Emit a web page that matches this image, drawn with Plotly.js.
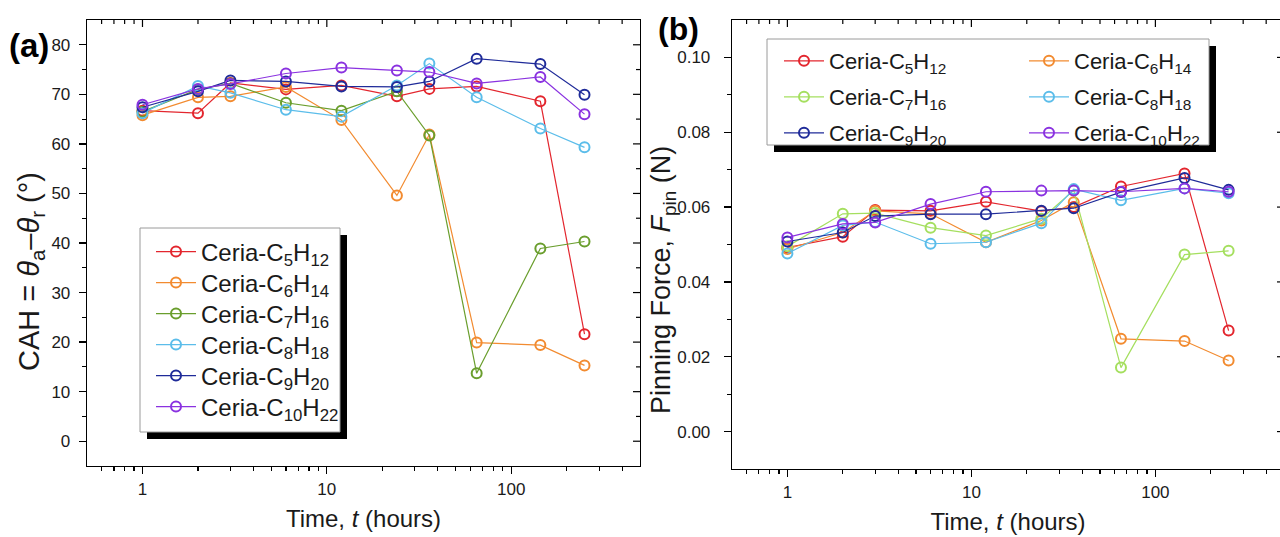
<!DOCTYPE html>
<html><head><meta charset="utf-8">
<script src="https://cdn.plot.ly/plotly-3.0.1.min.js"></script>
<style>html,body{margin:0;padding:0;overflow:hidden;background:#fff}#chart{width:1290px;height:537px}</style>
</head><body><div id="chart"></div>
<script>
// ---------- data ----------
const times = [1, 2, 3, 6, 12, 24, 36, 65, 144, 250];
const seriesNames = ['Ceria-C<sub>5</sub>H<sub>12</sub>', 'Ceria-C<sub>6</sub>H<sub>14</sub>', 'Ceria-C<sub>7</sub>H<sub>16</sub>',
  'Ceria-C<sub>8</sub>H<sub>18</sub>', 'Ceria-C<sub>9</sub>H<sub>20</sub>', 'Ceria-C<sub>10</sub>H<sub>22</sub>'];
const cahC5  = [66.7, 66.2, 72.3, 71.0, 71.8, 69.6, 71.1, 71.6, 68.6, 21.6];
const cahC6  = [65.8, 69.4, 69.6, 71.5, 64.8, 49.6, 61.9, 19.9, 19.4, 15.3];
const cahC7  = [66.5, 71.0, 72.2, 68.3, 66.7, 70.6, 61.7, 13.7, 38.9, 40.3];
const cahC8  = [66.2, 71.7, 70.3, 66.9, 65.5, 71.8, 76.2, 69.4, 63.1, 59.3];
const cahC9  = [67.4, 70.6, 72.8, 72.6, 71.6, 71.5, 72.6, 77.2, 76.1, 69.9];
const cahC10 = [67.9, 71.1, 72.1, 74.2, 75.4, 74.8, 74.5, 72.2, 73.5, 66.0];
const fpinC5  = [0.0492, 0.0521, 0.0592, 0.0590, 0.0614, 0.0589, 0.0600, 0.0655, 0.0690, 0.0270];
const fpinC6  = [0.0488, 0.0532, 0.0590, 0.0582, 0.0506, 0.0564, 0.0613, 0.0248, 0.0242, 0.0190];
const fpinC7  = [0.0495, 0.0582, 0.0584, 0.0545, 0.0524, 0.0569, 0.0645, 0.0171, 0.0473, 0.0483];
const fpinC8  = [0.0476, 0.0551, 0.0560, 0.0502, 0.0506, 0.0557, 0.0648, 0.0618, 0.0650, 0.0637];
const fpinC9  = [0.0508, 0.0532, 0.0576, 0.0581, 0.0581, 0.0590, 0.0597, 0.0640, 0.0678, 0.0646];
const fpinC10 = [0.0519, 0.0555, 0.0559, 0.0608, 0.0641, 0.0644, 0.0644, 0.0641, 0.0650, 0.0641];
const xMajorTicks = [1, 10, 100];
const xMinorTicks = [0.6, 0.7, 0.8, 0.9, 2, 3, 4, 5, 6, 7, 8, 9, 20, 30, 40, 50, 60, 70, 80, 90, 200, 300, 400];
const yMajorA = [0, 10, 20, 30, 40, 50, 60, 70, 80];
const yMinorA = [5, 15, 25, 35, 45, 55, 65, 75];
const yMajorB = [0, 0.02, 0.04, 0.06, 0.08, 0.10];
const yMinorB = [0.01, 0.03, 0.05, 0.07, 0.09];

const cahSeries = [cahC5, cahC6, cahC7, cahC8, cahC9, cahC10];
const fpinSeries = [fpinC5, fpinC6, fpinC7, fpinC8, fpinC9, fpinC10];
const colorsA = ['#e3262e', '#f28b30', '#6a9e2d', '#5bbdea', '#1f2b99', '#8a32e0'];
const colorsB = ['#e3262e', '#f28b30', '#a5df5f', '#5bbdea', '#1f2b99', '#8a32e0'];

// ---------- geometry ----------
const W = 1290, H = 537, ML = 87, MR = 6, MT = 20, MB = 68;
const PW = W - ML - MR, PH = H - MT - MB;
const fx = px => (px - ML) / PW;
const fy = py => (H - MB - py) / PH;
const FONT = 'Liberation Sans, Arial, sans-serif';
const INK = '#1a1a1a';

// legend placement (px): panel a one column, panel b two columns
const legRowsA = [252, 283, 314, 345, 376, 407];
const legXA = 151;
const legRowsB = [61, 61, 97, 97, 133, 133];
const legXB = [779, 1024, 779, 1024, 779, 1024];

const traces = [];
const layout = {
  width: W, height: H, margin: {l: ML, r: MR, t: MT, b: MB}, paper_bgcolor: '#fff', plot_bgcolor: '#fff',
  font: {family: FONT, color: INK}, showlegend: true, annotations: [], shapes: []
};
const legBase = {bgcolor: 'rgba(0,0,0,0)', borderwidth: 0, itemwidth: 40, xanchor: 'left', yanchor: 'middle',
  itemclick: false, itemdoubleclick: false};
function legId(k) { return k === 1 ? 'legend' : 'legend' + k; }

cahSeries.forEach((ys, i) => {
  const id = legId(i + 1);
  layout[id] = Object.assign({}, legBase, {x: fx(legXA), y: fy(legRowsA[i]), font: {family: FONT, size: 24, color: INK}});
  traces.push({
    x: times, y: ys, xaxis: 'x', yaxis: 'y', type: 'scatter', mode: 'lines+markers',
    name: seriesNames[i], legend: id,
    line: {color: colorsA[i], width: 1.2},
    marker: {symbol: 'circle-open', size: 10, color: colorsA[i], line: {width: 2, color: colorsA[i]}}
  });
});
fpinSeries.forEach((ys, i) => {
  const id = legId(i + 7);
  layout[id] = Object.assign({}, legBase, {x: fx(legXB[i]), y: fy(legRowsB[i]), font: {family: FONT, size: 22, color: INK}});
  traces.push({
    x: times, y: ys, xaxis: 'x2', yaxis: 'y2', type: 'scatter', mode: 'lines+markers',
    name: seriesNames[i], legend: id,
    line: {color: colorsB[i], width: 1.2},
    marker: {symbol: 'circle-open', size: 10, color: colorsB[i], line: {width: 2, color: colorsB[i]}}
  });
});

const xr = [Math.log10(0.5), Math.log10(500)];
const base = {showgrid: false, zeroline: false, tickcolor: '#000', tickwidth: 1.3, linecolor: '#000', linewidth: 1.3,
  showline: true, mirror: true, ticks: 'outside', ticklen: 7, tickfont: {family: FONT, size: 17, color: INK}};
const minorBase = {ticks: 'outside', ticklen: 4, tickcolor: '#000', tickwidth: 1.2, showgrid: false, tickmode: 'array'};

function tickShapesTop(xId, topPx, vals, len) {
  vals.forEach(v => layout.shapes.push({type: 'line', xref: xId, x0: v, x1: v, yref: 'paper', ysizemode: 'pixel',
    yanchor: fy(topPx), y0: 0, y1: -len, line: {color: '#000', width: 1.2}, layer: 'above'}));
}
function tickShapesRight(yId, rightPx, vals, len) {
  vals.forEach(v => layout.shapes.push({type: 'line', yref: yId, y0: v, y1: v, xref: 'paper', xsizemode: 'pixel',
    xanchor: fx(rightPx), x0: 0, x1: -len, line: {color: '#000', width: 1.2}, layer: 'above'}));
}

function buildPanel(n, xDomPx, yDomPx, yRange, yMaj, yMin, yFmt, standoff) {
  const xa = n === 1 ? 'xaxis' : 'xaxis' + n, ya = n === 1 ? 'yaxis' : 'yaxis' + n;
  const xId = n === 1 ? 'x' : 'x' + n, yId = n === 1 ? 'y' : 'y' + n;
  layout[xa] = Object.assign({}, base, {type: 'log', range: xr, domain: [fx(xDomPx[0]), Math.min(1, fx(xDomPx[1]))], anchor: yId,
    tickmode: 'array', tickvals: xMajorTicks, ticktext: xMajorTicks.map(String),
    minor: Object.assign({}, minorBase, {tickvals: xMinorTicks}),
    title: {text: 'Time, <i>t</i> (hours)', font: {family: FONT, size: 24, color: INK}, standoff: 12}});
  layout[ya] = Object.assign({}, base, {range: yRange, domain: [fy(yDomPx[1]), fy(yDomPx[0])], anchor: xId,
    tickmode: 'array', tickvals: yMaj, ticktext: yMaj.map(yFmt), ticklabelstandoff: standoff,
    minor: Object.assign({}, minorBase, {tickvals: yMin})});
  tickShapesTop(xId, yDomPx[0], xMajorTicks, 7);
  tickShapesTop(xId, yDomPx[0], xMinorTicks, 4);
  tickShapesRight(yId, xDomPx[1], yMaj, 7);
  tickShapesRight(yId, xDomPx[1], yMin, 4);
}
buildPanel(1, [87, 640], [20, 466], [-5, 85], yMajorA, yMinorA, v => String(v), 5);
buildPanel(2, [732, 1284], [20, 469], [-0.01, 0.11], yMajorB, yMinorB, v => v.toFixed(2), 10);

function box(x0, y0, x1, y1, fill, lc, lw) {
  return {type: 'rect', xref: 'paper', yref: 'paper', x0: fx(x0), x1: fx(x1), y0: fy(y0), y1: fy(y1),
    fillcolor: fill, line: {color: lc, width: lw}, layer: 'above'};
}
layout.shapes.push(box(147, 235, 347, 439, '#000', '#000', 0));
layout.shapes.push(box(140, 228, 340, 432, '#fff', '#9a9a9a', 1));
layout.shapes.push(box(774, 46, 1216, 152, '#000', '#000', 0));
layout.shapes.push(box(767, 39, 1209, 145, '#fff', '#9a9a9a', 1));

function ann(text, x, y, size, opts) {
  return Object.assign({text: text, xref: 'paper', yref: 'paper', x: fx(x), y: fy(y), showarrow: false,
    xanchor: 'center', yanchor: 'middle', font: {family: FONT, size: size, color: INK}}, opts || {});
}
layout.annotations.push(ann('<b>(a)</b>', 29, 45, 33, {font: {family: FONT, size: 33, color: '#000'}}));
layout.annotations.push(ann('<b>(b)</b>', 678, 29, 32, {font: {family: FONT, size: 32, color: '#000'}}));
layout.annotations.push(ann('CAH = <i>θ</i><sub>a</sub>–<i>θ</i><sub>r</sub> (°)', 31, 272, 29, {textangle: -90}));
layout.annotations.push(ann('Pinning Force, <i>F</i><sub>pin</sub> (N)', 663, 280, 27, {textangle: -90}));

Plotly.newPlot('chart', traces, layout, {displayModeBar: false, staticPlot: true});
</script>
</body></html>
